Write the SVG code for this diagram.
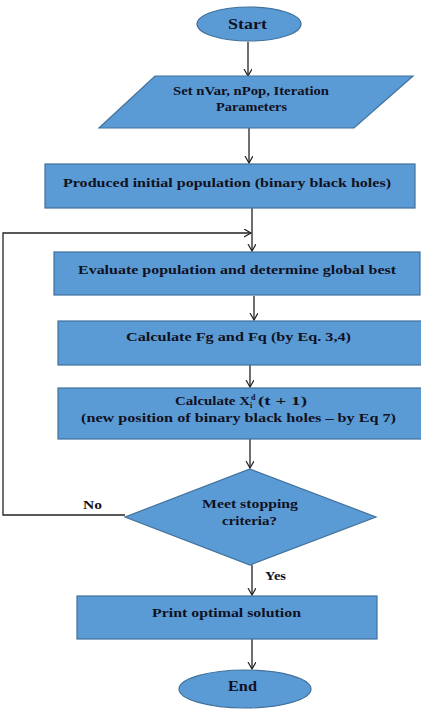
<svg xmlns="http://www.w3.org/2000/svg" width="421" height="711" viewBox="0 0 421 711">
<defs>
<style>
.shape{fill:#5b9bd5;stroke:#41719c;stroke-width:1.2}
.t{font-family:"Liberation Serif","Times New Roman",serif;font-weight:bold;font-size:13px;fill:#111122;text-anchor:start}
.sm{font-size:8px}
.conn{fill:none;stroke:#222;stroke-width:1.3}
</style>
<marker id="arr" markerWidth="10" markerHeight="10" refX="7" refY="4" orient="auto" markerUnits="userSpaceOnUse">
<path d="M0,0 L7,4 L0,8" fill="none" stroke="#222" stroke-width="1.2"/>
</marker>
</defs>
<rect width="421" height="711" fill="#ffffff"/>
<g id="connectors">
<line class="conn" x1="248" y1="42" x2="248" y2="76" marker-end="url(#arr)"/>
<line class="conn" x1="249" y1="128" x2="249" y2="163" marker-end="url(#arr)"/>
<line class="conn" x1="252" y1="208" x2="252" y2="251" marker-end="url(#arr)"/>
<polyline class="conn" points="125,515 3,515 3,233 251,233" marker-end="url(#arr)"/>
<line class="conn" x1="254" y1="296" x2="254" y2="320" marker-end="url(#arr)"/>
<line class="conn" x1="250" y1="365" x2="250" y2="387" marker-end="url(#arr)"/>
<line class="conn" x1="250" y1="439" x2="250" y2="468" marker-end="url(#arr)"/>
<line class="conn" x1="252" y1="565" x2="252" y2="595" marker-end="url(#arr)"/>
<line class="conn" x1="252" y1="639" x2="252" y2="669" marker-end="url(#arr)"/>
<text class="t" x="83" y="509" textLength="19" lengthAdjust="spacingAndGlyphs">No</text>
<text class="t" x="265" y="580" textLength="21" lengthAdjust="spacingAndGlyphs">Yes</text>
</g>
<g id="start">
<ellipse class="shape" cx="249" cy="24" rx="52" ry="17"/>
<text class="t" x="228" y="29" textLength="39" lengthAdjust="spacingAndGlyphs" style="font-size:15px">Start</text>
</g>
<g id="params">
<polygon class="shape" points="155,76 413,76 354,128 99,128"/>
<text class="t" x="173" y="95" textLength="156" lengthAdjust="spacingAndGlyphs">Set nVar, nPop, Iteration</text>
<text class="t" x="216" y="111" textLength="71" lengthAdjust="spacingAndGlyphs">Parameters</text>
</g>
<g id="init">
<rect class="shape" x="45" y="164" width="370" height="44"/>
<text class="t" x="63" y="187" textLength="328" lengthAdjust="spacingAndGlyphs">Produced  initial population (binary black holes)</text>
</g>
<g id="evaluate">
<rect class="shape" x="54" y="252" width="366" height="43"/>
<text class="t" x="78" y="274" textLength="318" lengthAdjust="spacingAndGlyphs">Evaluate population and determine global best</text>
</g>
<g id="calcF">
<rect class="shape" x="58" y="321" width="364" height="44"/>
<text class="t" x="126" y="341" textLength="225" lengthAdjust="spacingAndGlyphs">Calculate Fg and Fq (by Eq. 3,4)</text>
</g>
<g id="calcX">
<rect class="shape" x="58" y="388" width="364" height="51"/>
<text class="t" x="175" y="405" textLength="75" lengthAdjust="spacingAndGlyphs">Calculate X</text>
<text class="t sm" x="251" y="400">d</text>
<text class="t sm" x="250" y="408">i</text>
<text class="t" x="258" y="405" textLength="49" lengthAdjust="spacingAndGlyphs">(t + 1)</text>
<text class="t" x="81" y="422" textLength="315" lengthAdjust="spacingAndGlyphs">(new position of binary black holes – by Eq 7)</text>
</g>
<g id="decision">
<polygon class="shape" points="250,469 376,517 250,565 125,517"/>
<text class="t" x="202" y="508" textLength="96" lengthAdjust="spacingAndGlyphs">Meet  stopping</text>
<text class="t" x="222" y="525" textLength="55" lengthAdjust="spacingAndGlyphs">criteria?</text>
</g>
<g id="print">
<rect class="shape" x="77" y="596" width="300" height="43"/>
<text class="t" x="152" y="617" textLength="149" lengthAdjust="spacingAndGlyphs">Print optimal solution</text>
</g>
<g id="end">
<ellipse class="shape" cx="245" cy="689" rx="66" ry="19"/>
<text class="t" x="228" y="691" textLength="29" lengthAdjust="spacingAndGlyphs" style="font-size:14px">End</text>
</g>
</svg>
